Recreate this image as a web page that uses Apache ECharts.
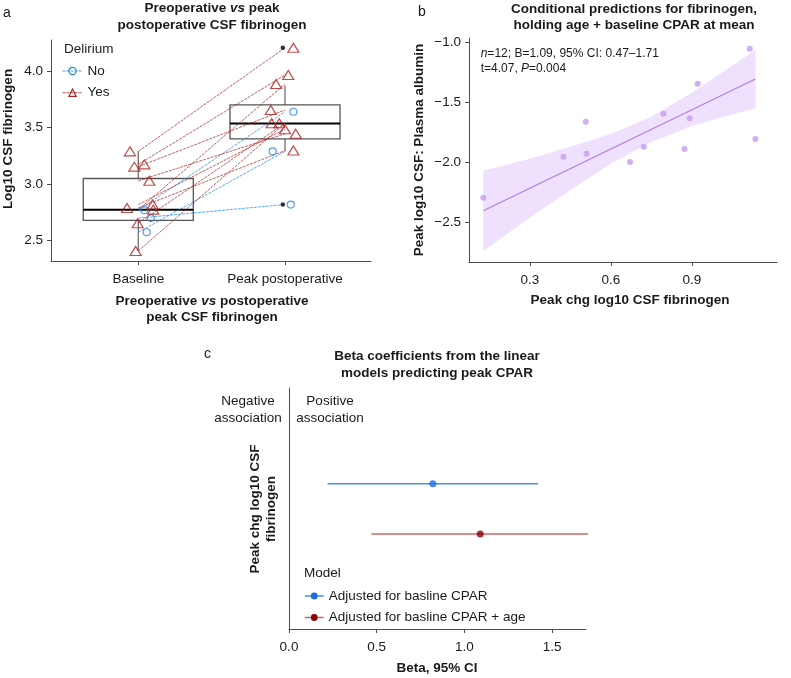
<!DOCTYPE html>
<html><head><meta charset="utf-8">
<script src="https://cdn.jsdelivr.net/npm/echarts@6/dist/echarts.min.js"></script>
<style>html,body{margin:0;padding:0;background:#fff}#c{width:791px;height:678px}</style>
</head><body><div id="c"></div>
<script>
// ---------- Panel a data ----------
var timepoints = ['Baseline', 'Peak postoperative'];
var yTicksA = [2.5, 3.0, 3.5, 4.0];
var baselineYes = [3.29, 3.175, 3.155, 3.03, 2.82, 2.79, 2.775, 2.655, 2.41];
var peakYes = [4.206, 3.965, 3.656, 3.445, 3.486, 3.297, 3.885, 3.539, 3.539];
var baselineYesJit = [0.943, 1.041, 0.973, 1.075, 1.098, 0.923, 1.102, 0.996, 0.982];
var peakYesJit = [2.057, 2.022, 1.903, 2.073, 2.0, 2.057, 1.939, 1.961, 1.909];
var baselineNo = [2.77, 2.70, 2.575];
var peakNo = [3.64, 2.82, 3.29];
var baselineNoJit = [1.041, 1.085, 1.057];
var peakNoJit = [2.057, 2.039, 1.916];
var boxBaseline = [2.41, 2.68, 2.775, 3.05, 3.29]; // min q1 median q3 max
var boxPeak = [3.29, 3.40, 3.535, 3.70, 3.87];
var outliersPeak = [4.206, 2.82];

// ---------- Panel b data ----------
var xTicksB = [0.3, 0.6, 0.9];
var yTicksB = [-2.5, -2.0, -1.5, -1.0];
var chgFib = [0.127, 0.424, 0.507, 0.510, 0.671, 0.722, 0.795, 0.873, 0.892, 0.922, 1.115, 1.136];
var csfRatio = [-2.295, -1.953, -1.662, -1.928, -1.997, -1.87, -1.595, -1.89, -1.633, -1.345, -1.053, -1.806];
var fitX = [0.127, 1.136];
var fitY = [-2.403, -1.306];
var bandX = [0.127, 0.3, 0.45, 0.6, 0.75, 0.9, 1.0, 1.136];
var bandLo = [-2.74, -2.46, -2.23, -2.01, -1.83, -1.70, -1.63, -1.55];
var bandHi = [-2.07, -1.97, -1.87, -1.765, -1.62, -1.42, -1.27, -1.065];

// ---------- Panel c data ----------
var models = ['Adjusted for basline CPAR', 'Adjusted for basline CPAR + age'];
var betas = [0.82, 1.09];
var ciLow = [0.22, 0.47];
var ciHigh = [1.42, 1.71];
var xTicksC = [0, 0.5, 1.0, 1.5];

// ---------- styling ----------
var F = '"Liberation Sans", Arial, Helvetica, sans-serif';
var AX = '#4d4d4d', TXT = '#1a1a1a';
var RED = '#b22222', BLUE = '#1e88e5';
var FS = 13.5;
var BOX_W = 0.75;

function fmtMinus(v, d) { return (v < 0 ? '\u2212' : '') + Math.abs(v).toFixed(d); }

function valAxis(o) {
  var base = {
    type: 'value', scale: true,
    axisLine: { show: true, lineStyle: { color: AX, width: 1 } },
    axisTick: { show: true, length: 4, lineStyle: { color: AX, width: 1 } },
    axisLabel: { color: TXT, fontSize: FS, fontFamily: F, margin: 8 },
    splitLine: { show: false }
  };
  for (var k in o) {
    if (typeof o[k] === 'object' && base[k] && !Array.isArray(o[k])) {
      for (var kk in o[k]) base[k][kk] = o[k][kk];
    } else base[k] = o[k];
  }
  return base;
}

var chart = echarts.init(document.getElementById('c'), null, { renderer: 'canvas' });

var series = [];

// box plots (panel a)
series.push({
  type: 'custom', xAxisIndex: 0, yAxisIndex: 0, silent: true, z: 1,
  data: [[1].concat(boxBaseline), [2].concat(boxPeak)],
  encode: { x: 0, y: [1, 2, 3, 4, 5] },
  renderItem: function (params, api) {
    var x = api.value(0);
    var pLo = api.coord([x, api.value(1)]), pQ1 = api.coord([x, api.value(2)]),
        pMed = api.coord([x, api.value(3)]), pQ3 = api.coord([x, api.value(4)]),
        pHi = api.coord([x, api.value(5)]);
    var half = api.size([BOX_W / 2, 0])[0];
    return { type: 'group', children: [
      { type: 'line', shape: { x1: pHi[0], y1: pHi[1], x2: pQ3[0], y2: pQ3[1] }, style: { stroke: '#7a7a7a', lineWidth: 1.4 } },
      { type: 'line', shape: { x1: pQ1[0], y1: pQ1[1], x2: pLo[0], y2: pLo[1] }, style: { stroke: '#7a7a7a', lineWidth: 1.4 } },
      { type: 'rect', shape: { x: pQ3[0] - half, y: pQ3[1], width: 2 * half, height: pQ1[1] - pQ3[1] }, style: { fill: 'none', stroke: '#555', lineWidth: 1.3 } },
      { type: 'line', shape: { x1: pMed[0] - half, y1: pMed[1], x2: pMed[0] + half, y2: pMed[1] }, style: { stroke: '#000', lineWidth: 2 } }
    ] };
  }
});

// paired lines
function pairLine(name, b, p, col, sym) {
  return {
    type: 'line', name: name, xAxisIndex: 0, yAxisIndex: 0, silent: true, z: 2,
    data: [[1, b], [2, p]], symbol: sym, showSymbol: false,
    lineStyle: { color: col, width: 0.9, opacity: 0.8, type: [3, 1] },
    itemStyle: { color: col }, animation: false
  };
}
for (var i = 0; i < baselineNo.length; i++) series.push(pairLine('No', baselineNo[i], peakNo[i], BLUE, 'circle'));
for (var i = 0; i < baselineYes.length; i++) series.push(pairLine('Yes', baselineYes[i], peakYes[i], RED, 'triangle'));

// jittered points
var noPts = [], yesPts = [];
for (var i = 0; i < baselineNo.length; i++) { noPts.push([baselineNoJit[i], baselineNo[i]]); noPts.push([peakNoJit[i], peakNo[i]]); }
for (var i = 0; i < baselineYes.length; i++) { yesPts.push([baselineYesJit[i], baselineYes[i]]); yesPts.push([peakYesJit[i], peakYes[i]]); }
series.push({ type: 'scatter', name: 'No', xAxisIndex: 0, yAxisIndex: 0, z: 3, silent: true,
  data: noPts, symbol: 'circle', symbolSize: 7,
  itemStyle: { color: 'rgba(0,0,0,0)', borderColor: BLUE, borderWidth: 1.2 } });
series.push({ type: 'scatter', name: 'Yes', xAxisIndex: 0, yAxisIndex: 0, z: 3, silent: true,
  data: yesPts, symbol: 'triangle', symbolSize: [11, 9],
  itemStyle: { color: 'rgba(0,0,0,0)', borderColor: RED, borderWidth: 1.2 } });
series.push({ type: 'scatter', xAxisIndex: 0, yAxisIndex: 0, z: 3, silent: true,
  data: outliersPeak.map(function (v) { return [1.985, v]; }), symbolSize: 4.5,
  itemStyle: { color: '#000' } });

// panel b: band
series.push({
  type: 'custom', xAxisIndex: 1, yAxisIndex: 1, silent: true, z: 1,
  data: bandX.map(function (x, i) { return [x, bandLo[i], bandHi[i]]; }),
  encode: { x: 0, y: [1, 2] },
  renderItem: function (params, api) {
    if (params.dataIndex !== 0) return null;
    var pts = [];
    for (var j = 0; j < bandX.length; j++) pts.push(api.coord([bandX[j], bandHi[j]]));
    for (var j = bandX.length - 1; j >= 0; j--) pts.push(api.coord([bandX[j], bandLo[j]]));
    return { type: 'polygon', shape: { points: pts }, style: { fill: '#efe0fd', stroke: null } };
  }
});
series.push({ type: 'line', xAxisIndex: 1, yAxisIndex: 1, silent: true, z: 2,
  data: fitX.map(function (x, i) { return [x, fitY[i]]; }), showSymbol: false, symbol: 'none',
  lineStyle: { color: '#b07be8', width: 1.1 } });
series.push({ type: 'scatter', xAxisIndex: 1, yAxisIndex: 1, silent: true, z: 3,
  data: chgFib.map(function (x, i) { return [x, csfRatio[i]]; }), symbolSize: 6,
  itemStyle: { color: '#c49cf0' } });

// panel c
var cLine = ['#4a90e2', '#c96a6a'], cDot = ['#1a6fe0', '#8b0000'];
for (var m = 0; m < models.length; m++) {
  series.push({ type: 'line', name: models[m], xAxisIndex: 3, yAxisIndex: 3, silent: true, z: 2,
    data: [[ciLow[m], models[m]], [ciHigh[m], models[m]]], symbol: 'circle', showSymbol: false,
    lineStyle: { color: cLine[m], width: 1.5 }, itemStyle: { color: cDot[m] } });
}
for (var m = 0; m < models.length; m++) {
  series.push({ type: 'scatter', name: models[m], xAxisIndex: 3, yAxisIndex: 3, silent: true, z: 3,
    data: [[betas[m], models[m]]], symbolSize: 7, itemStyle: { color: cDot[m] } });
}

function txt(x, y, text, o) {
  var st = { text: text, x: 0, y: 0, fill: TXT, fontFamily: F, fontSize: FS,
    align: 'center', verticalAlign: 'middle' };
  o = o || {};
  for (var k in o.style || {}) st[k] = o.style[k];
  return { type: 'text', x: x, y: y, rotation: o.rotation || 0, silent: true, style: st };
}
function richB(lh) {
  return {
    b: { fontWeight: 'bold', fontSize: FS, fontFamily: F, fill: TXT, lineHeight: lh },
    bi: { fontWeight: 'bold', fontStyle: 'italic', fontSize: FS, fontFamily: F, fill: TXT, lineHeight: lh },
    r: { fontSize: 12, fontFamily: F, fill: TXT, lineHeight: lh },
    ri: { fontSize: 12, fontStyle: 'italic', fontFamily: F, fill: TXT, lineHeight: lh }
  };
}

var graphics = [
  txt(3, 13, 'a', { style: { align: 'left', fontSize: 14 } }),
  txt(418, 12, 'b', { style: { align: 'left', fontSize: 14 } }),
  txt(204, 354, 'c', { style: { align: 'left', fontSize: 14 } }),
  txt(212, 16.7, '{b|Preoperative }{bi|vs}{b| peak}\n{b|postoperative CSF fibrinogen}', { style: { rich: richB(16.5), lineHeight: 16.5 } }),
  txt(212, 309.2, '{b|Preoperative }{bi|vs}{b| postoperative}\n{b|peak CSF fibrinogen}', { style: { rich: richB(15.5), lineHeight: 15.5 } }),
  txt(8.5, 139, 'Log10 CSF fibrinogen', { rotation: Math.PI / 2, style: { fontWeight: 'bold' } }),
  txt(64, 49.3, 'Delirium', { style: { align: 'left' } }),
  txt(634, 17.5, '{b|Conditional predictions for fibrinogen,}\n{b|holding age + baseline CPAR at mean}', { style: { rich: richB(15.5), lineHeight: 15.5 } }),
  txt(630, 300.7, 'Peak chg log10 CSF fibrinogen', { style: { fontWeight: 'bold' } }),
  txt(419.5, 150, 'Peak log10 CSF: Plasma albumin', { rotation: Math.PI / 2, style: { fontWeight: 'bold' } }),
  txt(480.7, 46.5, '{ri|n}{r|=12; B=1.09, 95% CI: 0.47\u20131.71}\n{r|t=4.07, }{ri|P}{r|=0.004}', { style: { align: 'left', verticalAlign: 'top', rich: richB(15), lineHeight: 15 } }),
  txt(437, 365, '{b|Beta coefficients from the linear}\n{b|models predicting peak CPAR}', { style: { rich: richB(16.5), lineHeight: 16.5 } }),
  txt(248, 410, 'Negative\nassociation', { style: { lineHeight: 16.7 } }),
  txt(330, 410, 'Positive\nassociation', { style: { lineHeight: 16.7 } }),
  txt(263.3, 509, 'Peak chg log10 CSF\nfibrinogen', { rotation: Math.PI / 2, style: { fontWeight: 'bold', lineHeight: 16.7 } }),
  txt(304, 573.3, 'Model', { style: { align: 'left' } }),
  txt(437, 668.3, 'Beta, 95% CI', { style: { fontWeight: 'bold' } })
];

var option = {
  animation: false,
  backgroundColor: '#fff',
  textStyle: { fontFamily: F },
  grid: [
    { left: 51, top: 40, width: 320, height: 221 },
    { left: 469, top: 38, width: 308, height: 224 },
    { left: 289, top: 388, width: 297, height: 241 },
    { left: 289, top: 458.5, width: 297, height: 100.6 }
  ],
  xAxis: [
    valAxis({ gridIndex: 0, min: 0.405, max: 2.586,
      axisTick: { customValues: [1, 2] },
      axisLabel: { customValues: [1, 2], margin: 11, formatter: function (v) { return timepoints[Math.round(v) - 1]; } } }),
    valAxis({ gridIndex: 1, min: 0.074, max: 1.216,
      axisTick: { customValues: xTicksB },
      axisLabel: { customValues: xTicksB, margin: 11, formatter: function (v) { return v.toFixed(1); } } }),
    valAxis({ gridIndex: 2, min: 0, max: 1.693,
      axisTick: { customValues: xTicksC },
      axisLabel: { customValues: xTicksC, margin: 11, formatter: function (v) { return v.toFixed(1); } } }),
    { type: 'value', gridIndex: 3, min: 0, max: 1.693, show: false }
  ],
  yAxis: [
    valAxis({ gridIndex: 0, min: 2.321, max: 4.274,
      axisTick: { customValues: yTicksA },
      axisLabel: { customValues: yTicksA, formatter: function (v) { return v.toFixed(1); } } }),
    valAxis({ gridIndex: 1, min: -2.831, max: -0.964,
      axisTick: { customValues: yTicksB },
      axisLabel: { customValues: yTicksB, formatter: function (v) { return fmtMinus(v, 1); } } }),
    valAxis({ gridIndex: 2, min: 0, max: 1, axisTick: { show: false }, axisLabel: { show: false } }),
    { type: 'category', gridIndex: 3, data: [models[1], models[0]], show: false }
  ],
  legend: [
    { orient: 'vertical', left: 57, top: 59, itemWidth: 20, itemHeight: 9, itemGap: 7.7, selectedMode: false,
      textStyle: { fontSize: FS, color: TXT, fontFamily: F },
      data: [
        { name: 'No', itemStyle: { color: 'rgba(0,0,0,0)', borderColor: BLUE, borderWidth: 1.2 }, lineStyle: { color: BLUE, width: 1, type: [3, 1] } },
        { name: 'Yes', itemStyle: { color: 'rgba(0,0,0,0)', borderColor: RED, borderWidth: 1.2 }, lineStyle: { color: RED, width: 1, type: [3, 1] } }
      ] },
    { orient: 'vertical', left: 299, top: 584, itemWidth: 19, itemHeight: 8.5, itemGap: 7.5, selectedMode: false,
      textStyle: { fontSize: FS, color: TXT, fontFamily: F },
      data: [
        { name: models[0], itemStyle: { color: cDot[0], borderWidth: 0 }, lineStyle: { color: cLine[0], width: 1.5 } },
        { name: models[1], itemStyle: { color: cDot[1], borderWidth: 0 }, lineStyle: { color: cLine[1], width: 1.5 } }
      ] }
  ],
  graphic: graphics,
  series: series
};
chart.setOption(option);
</script></body></html>
